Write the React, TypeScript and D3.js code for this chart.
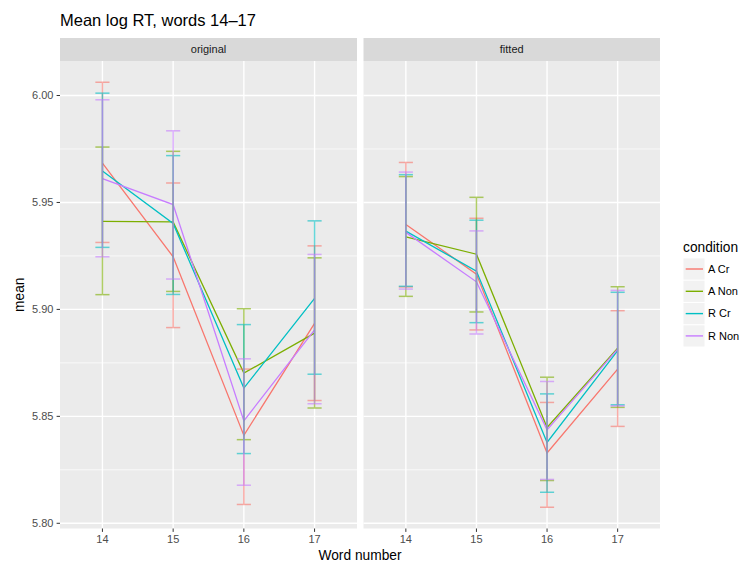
import React from "react";
import * as d3 from "d3";

// Word positions on the x axis
const words = ["14", "15", "16", "17"];
const conditions = ["A Cr", "A Non", "R Cr", "R Non"];
const panels = ["original", "fitted"];
const colors = ["#F8766D", "#7CAE00", "#00BFC4", "#C77CFF"];
const yTicks = [5.8, 5.85, 5.9, 5.95, 6.0];

// Mean log RT per condition (rows follow `conditions`, columns follow `words`)
const originalMean = [
  [5.9684, 5.9246, 5.8411, 5.8935],
  [5.9412, 5.9409, 5.8702, 5.8889],
  [5.9647, 5.9402, 5.8632, 5.9052],
  [5.9611, 5.949, 5.8479, 5.8904],
];
const originalLower = [
  [5.9313, 5.8915, 5.8088, 5.8574],
  [5.9069, 5.9084, 5.8391, 5.8539],
  [5.929, 5.907, 5.8326, 5.8697],
  [5.9246, 5.9142, 5.8178, 5.8559],
];
const originalUpper = [
  [6.0062, 5.9591, 5.8721, 5.9297],
  [5.9759, 5.9739, 5.9003, 5.9241],
  [6.0011, 5.9719, 5.8929, 5.9414],
  [5.998, 5.9835, 5.8769, 5.9257],
];

const fittedMean = [
  [5.9397, 5.9165, 5.8329, 5.8721],
  [5.9339, 5.9258, 5.8448, 5.8819],
  [5.9366, 5.9179, 5.8378, 5.8807],
  [5.936, 5.9129, 5.8437, 5.8814],
];
const fittedLower = [
  [5.9105, 5.8904, 5.8075, 5.8453],
  [5.9061, 5.8988, 5.82, 5.8542],
  [5.9108, 5.8938, 5.8145, 5.8554],
  [5.9095, 5.8885, 5.8205, 5.8549],
];
const fittedUpper = [
  [5.9687, 5.9426, 5.8565, 5.8994],
  [5.9621, 5.9524, 5.8683, 5.9106],
  [5.963, 5.9417, 5.8605, 5.908],
  [5.9642, 5.9367, 5.8663, 5.9089],
];

const panelData = [
  { name: panels[0], mean: originalMean, lower: originalLower, upper: originalUpper },
  { name: panels[1], mean: fittedMean, lower: fittedLower, upper: fittedUpper },
];

const FONT = "'Liberation Sans', Arial, Helvetica, sans-serif";
const W = 741;
const H = 563;
const panelTop = 61;
const panelBottom = 528.5;
const stripTop = 38;
const panelX = [
  [60, 357],
  [363.5, 660],
];

export default function App() {
  const all = [
    ...originalLower.flat(),
    ...originalUpper.flat(),
    ...fittedLower.flat(),
    ...fittedUpper.flat(),
  ];
  const lo = d3.min(all) as number;
  const hi = d3.max(all) as number;
  const pad = (hi - lo) * 0.05;
  const y = d3.scaleLinear().domain([lo - pad, hi + pad]).range([panelBottom, panelTop]);
  const minorTicks = yTicks.slice(0, -1).map((t, i) => (t + yTicks[i + 1]) / 2);

  const capHalf = 0.1;

  return (
    <div style={{ position: "absolute", left: 0, top: 0 }}>
      <svg width={W} height={H} style={{ display: "block", background: "#fff" }} fontFamily={FONT}>
        <text x={60} y={26} fontSize={16.5} fill="#000">
          Mean log RT, words 14–17
        </text>

        {panelData.map((p, pi) => {
          const [x0, x1] = panelX[pi];
          const x = d3.scalePoint<string>().domain(words).range([x0, x1]).padding(0.6);
          const step = x.step();
          const line = d3
            .line<number>()
            .x((_, i) => x(words[i]) as number)
            .y((v) => y(v));
          return (
            <g key={p.name}>
              <rect x={x0} y={stripTop} width={x1 - x0} height={panelTop - stripTop} fill="#D9D9D9" />
              <text
                x={(x0 + x1) / 2}
                y={(stripTop + panelTop) / 2}
                dy="0.35em"
                textAnchor="middle"
                fontSize={11}
                fill="#1A1A1A"
              >
                {p.name}
              </text>
              <rect x={x0} y={panelTop} width={x1 - x0} height={panelBottom - panelTop} fill="#EBEBEB" />
              {minorTicks.map((t) => (
                <line key={"mn" + t} x1={x0} x2={x1} y1={y(t)} y2={y(t)} stroke="#fff" strokeWidth={0.7} />
              ))}
              {yTicks.map((t) => (
                <line key={"mj" + t} x1={x0} x2={x1} y1={y(t)} y2={y(t)} stroke="#fff" strokeWidth={1.4} />
              ))}
              {words.map((w) => (
                <line
                  key={"v" + w}
                  x1={x(w)}
                  x2={x(w)}
                  y1={panelTop}
                  y2={panelBottom}
                  stroke="#fff"
                  strokeWidth={1.4}
                />
              ))}

              {conditions.map((c, ci) => (
                <path key={"l" + c} d={line(p.mean[ci]) || ""} fill="none" stroke={colors[ci]} strokeWidth={1.3} />
              ))}

              {conditions.map((c, ci) => (
                <g key={"e" + c} stroke={colors[ci]} strokeWidth={1.5} opacity={0.6}>
                  {words.map((w, wi) => {
                    const cx = x(w) as number;
                    const yl = y(p.lower[ci][wi]);
                    const yu = y(p.upper[ci][wi]);
                    const hw = capHalf * step;
                    return (
                      <g key={w}>
                        <line x1={cx} x2={cx} y1={yl} y2={yu} />
                        <line x1={cx - hw} x2={cx + hw} y1={yl} y2={yl} />
                        <line x1={cx - hw} x2={cx + hw} y1={yu} y2={yu} />
                      </g>
                    );
                  })}
                </g>
              ))}

              {words.map((w) => (
                <g key={"xt" + w}>
                  <line x1={x(w)} x2={x(w)} y1={panelBottom} y2={panelBottom + 3.4} stroke="#333" strokeWidth={1} />
                  <text x={x(w)} y={543} textAnchor="middle" fontSize={11} fill="#4D4D4D">
                    {w}
                  </text>
                </g>
              ))}
            </g>
          );
        })}

        {yTicks.map((t) => (
          <g key={"yt" + t}>
            <line x1={56.6} x2={60} y1={y(t)} y2={y(t)} stroke="#333" strokeWidth={1} />
            <text x={53.5} y={y(t)} dy="0.35em" textAnchor="end" fontSize={11} fill="#4D4D4D">
              {t.toFixed(2)}
            </text>
          </g>
        ))}

        <text x={360} y={560} textAnchor="middle" fontSize={13.75} fill="#000">
          Word number
        </text>
        <text
          transform={`translate(24, ${(panelTop + panelBottom) / 2}) rotate(-90)`}
          textAnchor="middle"
          fontSize={13.75}
          fill="#000"
        >
          mean
        </text>

        <g>
          <text x={683} y={252} fontSize={13.75} fill="#000">
            condition
          </text>
          {conditions.map((c, ci) => {
            const cy = 269 + ci * 22.3;
            return (
              <g key={"lg" + c}>
                <rect x={683.5} y={cy - 10.6} width={21} height={21.2} fill="#F2F2F2" />
                <line x1={685.7} x2={703} y1={cy} y2={cy} stroke={colors[ci]} strokeWidth={1.4} />
                <text x={708} y={cy} dy="0.35em" fontSize={11} fill="#000">
                  {c}
                </text>
              </g>
            );
          })}
        </g>
      </svg>
    </div>
  );
}
